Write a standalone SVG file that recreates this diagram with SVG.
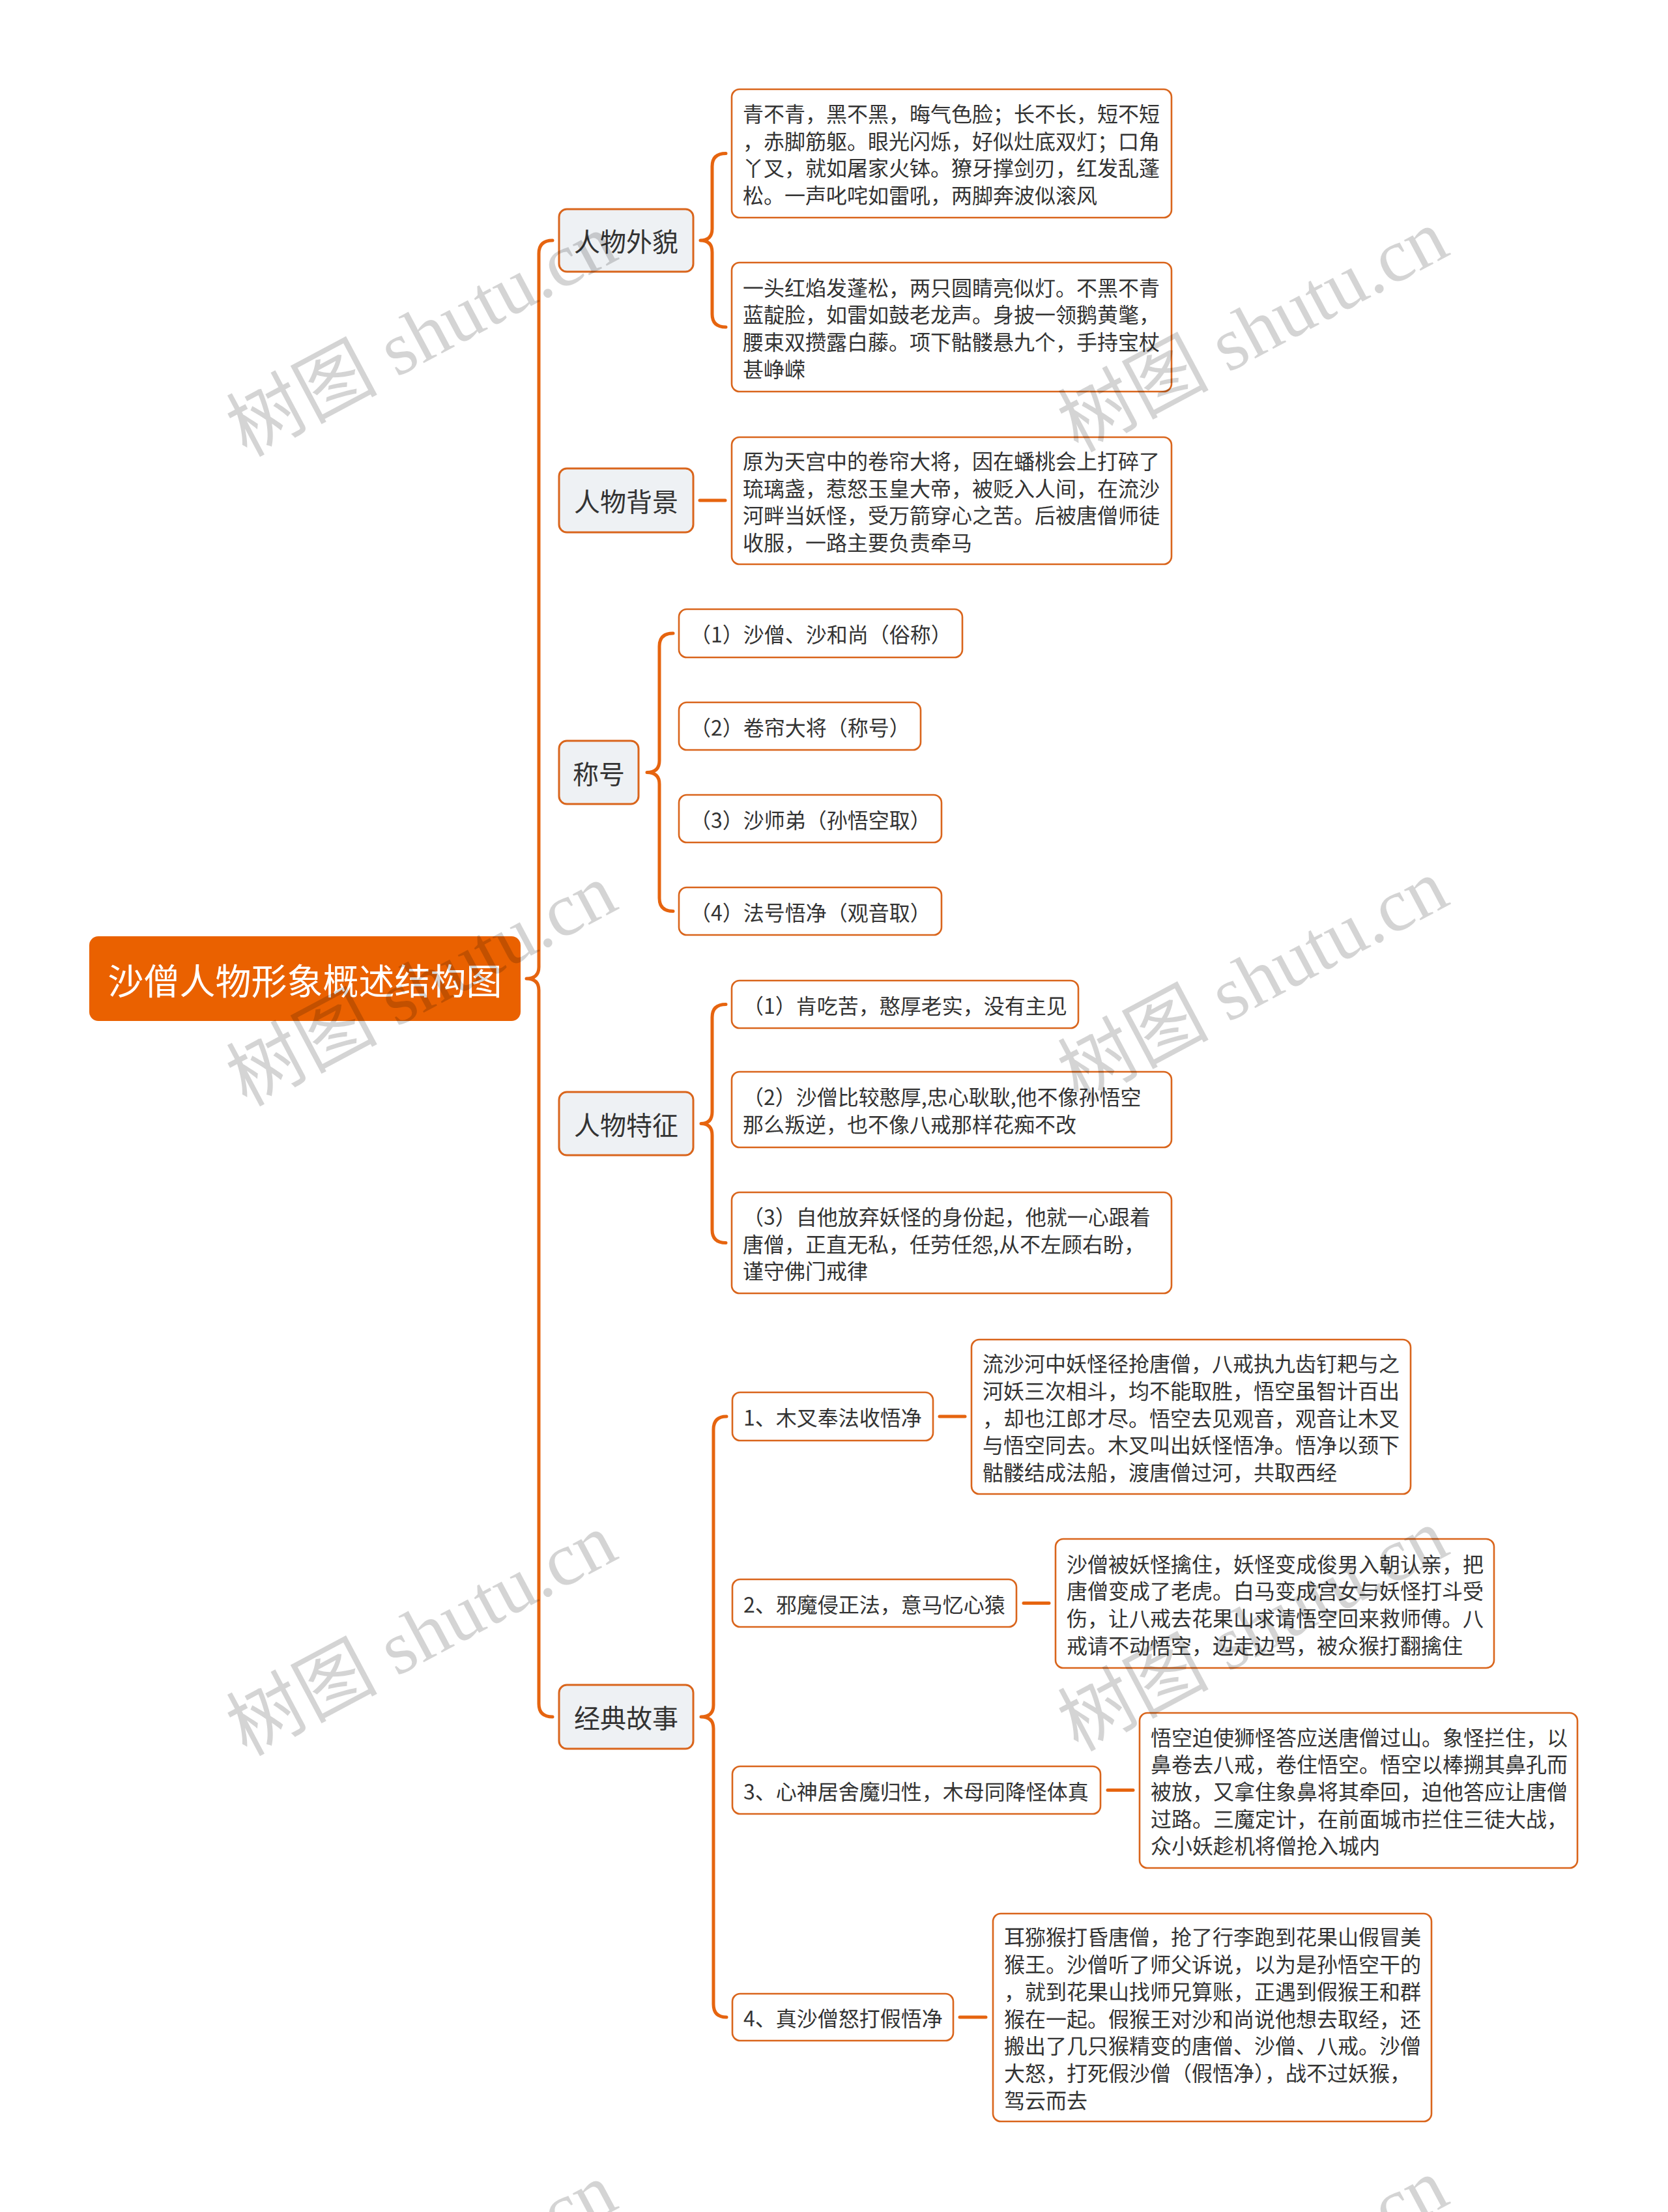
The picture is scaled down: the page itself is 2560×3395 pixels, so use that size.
<svg xmlns="http://www.w3.org/2000/svg" width="2560" height="3395" viewBox="0 0 2560 3395">
<style>
.bg{fill:#ffffff}
.root rect{fill:#EA6100}
.root text{fill:#ffffff;font-size:55px}
.cat rect{fill:#EEF1F4;stroke:#D9651C;stroke-width:3}
.cat text{fill:#333333;font-size:40px}
.leaf rect{fill:#ffffff;stroke:#D9651C;stroke-width:2.6}
.leaf text{fill:#333333;font-size:32px}
text{font-family:"Noto Sans CJK SC","Noto Sans",sans-serif;dominant-baseline:central}
.mid{text-anchor:middle}
.conn path,.conn line{fill:none;stroke:#E6640F;stroke-width:5;stroke-linecap:round;stroke-linejoin:round}
.wm text{font-family:"Liberation Serif","Noto Sans CJK SC",serif;font-size:116px;fill:#000000;fill-opacity:0.17;dominant-baseline:alphabetic}
</style>
<rect class="bg" x="0" y="0" width="2560" height="3395"/>

<g id="connectors" class="conn">
  <path d="M848 369 Q827 369 827 389 L827 1484 Q827 1502 808 1502 Q827 1502 827 1520 L827 2615 Q827 2635 848 2635"/>
  <path d="M1114 235.5 Q1093 235.5 1093 255.5 L1093 351 Q1093 369 1075 369 Q1093 369 1093 387 L1093 482 Q1093 502 1114 502"/>
  <line x1="1074" y1="768" x2="1113" y2="768"/>
  <path d="M1033 972 Q1012 972 1012 992 L1012 1167.5 Q1012 1185.5 993 1185.5 Q1012 1185.5 1012 1203.5 L1012 1378.5 Q1012 1398.5 1033 1398.5"/>
  <path d="M1114 1541.5 Q1093 1541.5 1093 1561.5 L1093 1706.5 Q1093 1724.5 1076 1724.5 Q1093 1724.5 1093 1742.5 L1093 1887.5 Q1093 1907.5 1114 1907.5"/>
  <path d="M1115 2174 Q1095 2174 1095 2194 L1095 2617 Q1095 2635 1076 2635 Q1095 2635 1095 2653 L1095 3076 Q1095 3096 1115 3096"/>
  <line x1="1442" y1="2174" x2="1481" y2="2174"/>
  <line x1="1571" y1="2460.5" x2="1610" y2="2460.5"/>
  <line x1="1700" y1="2747.5" x2="1739" y2="2747.5"/>
  <line x1="1473" y1="3096" x2="1513" y2="3096"/>
</g>

<g id="root" class="root">
  <rect x="137" y="1437" width="662" height="130" rx="14"/>
  <text class="mid" x="468" y="1502">沙僧人物形象概述结构图</text>
</g>

<g id="cat-waimao" class="cat">
  <rect x="858" y="321" width="206" height="96" rx="12"/>
  <text class="mid" x="961" y="369">人物外貌</text>
</g>
<g id="cat-beijing" class="cat">
  <rect x="858" y="719" width="206" height="98" rx="12"/>
  <text class="mid" x="961" y="768">人物背景</text>
</g>
<g id="cat-chenghao" class="cat">
  <rect x="858" y="1137" width="122" height="97" rx="12"/>
  <text class="mid" x="919" y="1185.5">称号</text>
</g>
<g id="cat-tezheng" class="cat">
  <rect x="858" y="1676" width="206" height="97" rx="12"/>
  <text class="mid" x="961" y="1724.5">人物特征</text>
</g>
<g id="cat-gushi" class="cat">
  <rect x="858" y="2586" width="206" height="98" rx="12"/>
  <text class="mid" x="961" y="2635">经典故事</text>
</g>

<g id="leaf-waimao-1" class="leaf">
  <rect x="1123" y="137" width="675" height="197" rx="12"/>
  <text><tspan x="1140" y="173">青不青，黑不黑，晦气色脸；长不长，短不短</tspan><tspan x="1140" y="214.7">，赤脚筋躯。眼光闪烁，好似灶底双灯；口角</tspan><tspan x="1140" y="256.4">丫叉，就如屠家火钵。獠牙撑剑刃，红发乱蓬</tspan><tspan x="1140" y="298.1">松。一声叱咤如雷吼，两脚奔波似滚风</tspan></text>
</g>
<g id="leaf-waimao-2" class="leaf">
  <rect x="1123" y="403" width="675" height="198" rx="12"/>
  <text><tspan x="1140" y="439.5">一头红焰发蓬松，两只圆睛亮似灯。不黑不青</tspan><tspan x="1140" y="481.2">蓝靛脸，如雷如鼓老龙声。身披一领鹅黄氅，</tspan><tspan x="1140" y="522.9">腰束双攒露白藤。项下骷髅悬九个，手持宝杖</tspan><tspan x="1140" y="564.6">甚峥嵘</tspan></text>
</g>
<g id="leaf-beijing" class="leaf">
  <rect x="1123" y="671" width="675" height="195" rx="12"/>
  <text><tspan x="1140" y="706">原为天宫中的卷帘大将，因在蟠桃会上打碎了</tspan><tspan x="1140" y="747.7">琉璃盏，惹怒玉皇大帝，被贬入人间，在流沙</tspan><tspan x="1140" y="789.4">河畔当妖怪，受万箭穿心之苦。后被唐僧师徒</tspan><tspan x="1140" y="831.1">收服，一路主要负责牵马</tspan></text>
</g>

<g id="leaf-chenghao-1" class="leaf">
  <rect x="1042" y="935" width="435" height="74" rx="12"/>
  <text x="1059" y="972">（1）沙僧、沙和尚（俗称）</text>
</g>
<g id="leaf-chenghao-2" class="leaf">
  <rect x="1042" y="1078" width="371" height="73" rx="12"/>
  <text x="1059" y="1114.5">（2）卷帘大将（称号）</text>
</g>
<g id="leaf-chenghao-3" class="leaf">
  <rect x="1042" y="1220" width="403" height="73" rx="12"/>
  <text x="1059" y="1256.5">（3）沙师弟（孙悟空取）</text>
</g>
<g id="leaf-chenghao-4" class="leaf">
  <rect x="1042" y="1362" width="403" height="73" rx="12"/>
  <text x="1059" y="1398.5">（4）法号悟净（观音取）</text>
</g>

<g id="leaf-tezheng-1" class="leaf">
  <rect x="1123" y="1505" width="532" height="73" rx="12"/>
  <text x="1140" y="1541.5">（1）肯吃苦，憨厚老实，没有主见</text>
</g>
<g id="leaf-tezheng-2" class="leaf">
  <rect x="1123" y="1645" width="675" height="116" rx="12"/>
  <text><tspan x="1140" y="1682.2">（2）沙僧比较憨厚,忠心耿耿,他不像孙悟空</tspan><tspan x="1140" y="1723.9">那么叛逆，也不像八戒那样花痴不改</tspan></text>
</g>
<g id="leaf-tezheng-3" class="leaf">
  <rect x="1123" y="1830" width="675" height="155" rx="12"/>
  <text><tspan x="1140" y="1865.8">（3）自他放弃妖怪的身份起，他就一心跟着</tspan><tspan x="1140" y="1907.5">唐僧，正直无私，任劳任怨,从不左顾右盼，</tspan><tspan x="1140" y="1949.2">谨守佛门戒律</tspan></text>
</g>

<g id="story-1" class="leaf">
  <rect x="1124" y="2137" width="308" height="74" rx="12"/>
  <text x="1141" y="2174">1、木叉奉法收悟净</text>
</g>
<g id="story-2" class="leaf">
  <rect x="1124" y="2424" width="436" height="73" rx="12"/>
  <text x="1141" y="2460.5">2、邪魔侵正法，意马忆心猿</text>
</g>
<g id="story-3" class="leaf">
  <rect x="1124" y="2711" width="565" height="73" rx="12"/>
  <text x="1141" y="2747.5">3、心神居舍魔归性，木母同降怪体真</text>
</g>
<g id="story-4" class="leaf">
  <rect x="1124" y="3060" width="339" height="72" rx="12"/>
  <text x="1141" y="3096">4、真沙僧怒打假悟净</text>
</g>

<g id="story-1-detail" class="leaf">
  <rect x="1491" y="2056" width="674" height="237" rx="12"/>
  <text><tspan x="1508" y="2091.1">流沙河中妖怪径抢唐僧，八戒执九齿钉耙与之</tspan><tspan x="1508" y="2132.8">河妖三次相斗，均不能取胜，悟空虽智计百出</tspan><tspan x="1508" y="2174.5">，却也江郎才尽。悟空去见观音，观音让木叉</tspan><tspan x="1508" y="2216.2">与悟空同去。木叉叫出妖怪悟净。悟净以颈下</tspan><tspan x="1508" y="2257.9">骷髅结成法船，渡唐僧过河，共取西经</tspan></text>
</g>
<g id="story-2-detail" class="leaf">
  <rect x="1620" y="2362" width="673" height="198" rx="12"/>
  <text><tspan x="1637" y="2398.5">沙僧被妖怪擒住，妖怪变成俊男入朝认亲，把</tspan><tspan x="1637" y="2440.2">唐僧变成了老虎。白马变成宫女与妖怪打斗受</tspan><tspan x="1637" y="2481.9">伤，让八戒去花果山求请悟空回来救师傅。八</tspan><tspan x="1637" y="2523.6">戒请不动悟空，边走边骂，被众猴打翻擒住</tspan></text>
</g>
<g id="story-3-detail" class="leaf">
  <rect x="1749" y="2629" width="672" height="238" rx="12"/>
  <text><tspan x="1766" y="2664.6">悟空迫使狮怪答应送唐僧过山。象怪拦住，以</tspan><tspan x="1766" y="2706.3">鼻卷去八戒，卷住悟空。悟空以棒搠其鼻孔而</tspan><tspan x="1766" y="2748">被放，又拿住象鼻将其牵回，迫他答应让唐僧</tspan><tspan x="1766" y="2789.7">过路。三魔定计，在前面城市拦住三徒大战，</tspan><tspan x="1766" y="2831.4">众小妖趁机将僧抢入城内</tspan></text>
</g>
<g id="story-4-detail" class="leaf">
  <rect x="1524" y="2937" width="673" height="319" rx="12"/>
  <text><tspan x="1541" y="2971.4">耳猕猴打昏唐僧，抢了行李跑到花果山假冒美</tspan><tspan x="1541" y="3013.1">猴王。沙僧听了师父诉说，以为是孙悟空干的</tspan><tspan x="1541" y="3054.8">，就到花果山找师兄算账，正遇到假猴王和群</tspan><tspan x="1541" y="3096.5">猴在一起。假猴王对沙和尚说他想去取经，还</tspan><tspan x="1541" y="3138.2">搬出了几只猴精变的唐僧、沙僧、八戒。沙僧</tspan><tspan x="1541" y="3179.9">大怒，打死假沙僧（假悟净），战不过妖猴，</tspan><tspan x="1541" y="3221.6">驾云而去</tspan></text>
</g>

<g id="watermark" class="wm">
  <text transform="translate(378 702) rotate(-28)">树图 shutu.cn</text>
  <text transform="translate(1654 695) rotate(-28)">树图 shutu.cn</text>
  <text transform="translate(378 1699) rotate(-28)">树图 shutu.cn</text>
  <text transform="translate(1654 1692) rotate(-28)">树图 shutu.cn</text>
  <text transform="translate(378 2696) rotate(-28)">树图 shutu.cn</text>
  <text transform="translate(1654 2689) rotate(-28)">树图 shutu.cn</text>
  <text transform="translate(378 3693) rotate(-28)">树图 shutu.cn</text>
  <text transform="translate(1654 3686) rotate(-28)">树图 shutu.cn</text>
</g>
</svg>
